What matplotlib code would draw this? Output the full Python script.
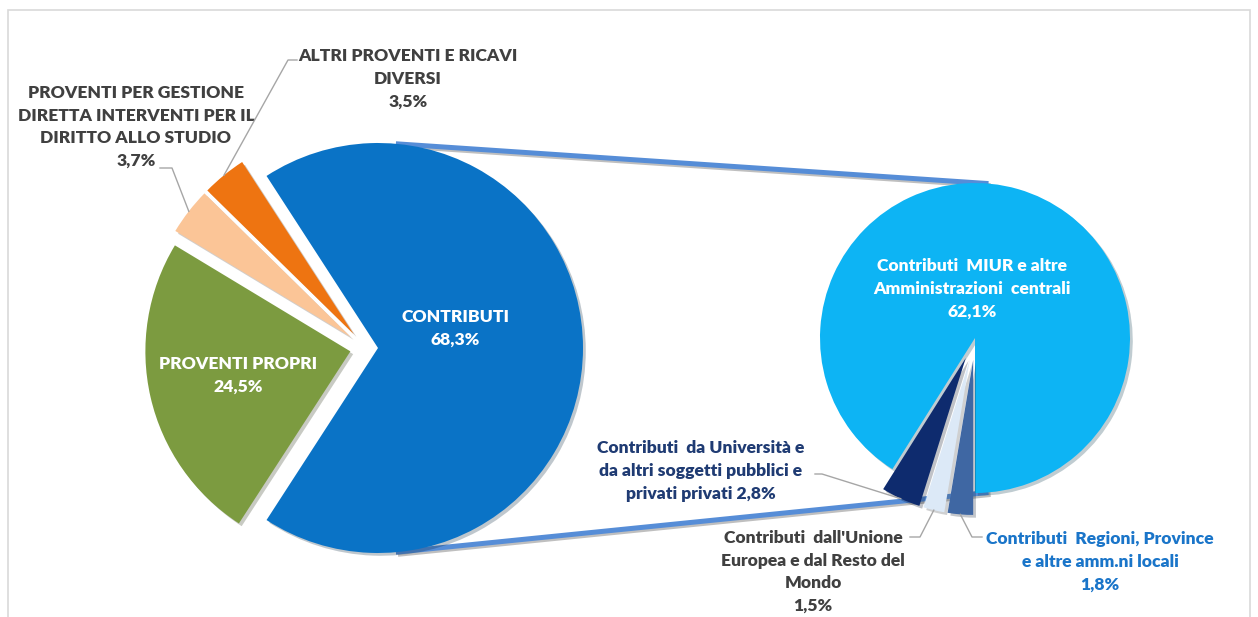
import numpy as np
import matplotlib.pyplot as plt
import matplotlib.patheffects as pe
from matplotlib.patches import Rectangle

# main pie
main_labels = ["CONTRIBUTI",
               "ALTRI PROVENTI E RICAVI\nDIVERSI",
               "PROVENTI PER GESTIONE\nDIRETTA INTERVENTI PER IL\nDIRITTO ALLO STUDIO",
               "PROVENTI PROPRI"]
main_values = [68.3, 3.5, 3.7, 24.5]
main_colors = ["#0A73C6", "#EE7411", "#FBC597", "#7C9B40"]

# breakdown of CONTRIBUTI
sub_labels = ["Contributi  MIUR e altre\nAmministrazioni  centrali",
              "Contributi  da Università e\nda altri soggetti pubblici e\nprivati privati",
              "Contributi  dall'Unione\nEuropea e dal Resto del\nMondo",
              "Contributi  Regioni, Province\ne altre amm.ni locali"]
sub_values = [62.1, 2.8, 1.5, 1.8]
sub_colors = ["#0DB4F4", "#0E2B6E", "#DCE9F7", "#3F67A3"]

W, H = 1258, 617
plt.rcParams['font.family'] = ['Lato', 'DejaVu Sans']
fig = plt.figure(figsize=(W / 100, H / 100), dpi=100)
ax = fig.add_axes([0, 0, 1, 1])


def py(y):
    return H - y


def pct(v):
    return f"{v:.1f}".replace(".", ",") + "%"


shadow = [pe.SimplePatchShadow(offset=(2, -2), alpha=0.25), pe.Normal()]

start = -main_values[0] / sum(main_values) * 360 / 2
wl, _ = ax.pie(main_values, colors=main_colors, startangle=start,
               center=(365, py(348)), radius=205,
               explode=[13, 18, 18, 15], wedgeprops=dict(linewidth=0))
wr, _ = ax.pie(sub_values, colors=sub_colors, startangle=-90,
               center=(975, py(338)), radius=155,
               explode=[0, 22, 22, 22], wedgeprops=dict(linewidth=0))
for w in wl + wr:
    w.set_path_effects(shadow)
    w.set_zorder(3)


def on_arc(w, ang=None):
    if ang is None:
        ang = (w.theta1 + w.theta2) / 2
    a = np.deg2rad(ang)
    return w.center[0] + w.r * np.cos(a), w.center[1] + w.r * np.sin(a)


# connector lines between the two pies
for ang in (85, -85):
    p0 = on_arc(wl[0], ang)
    p1 = on_arc(wr[0], ang)
    ax.plot([p0[0], p1[0]], [p0[1], p1[1]], color="#568DD7", lw=3.6,
            solid_capstyle="butt", zorder=2,
            path_effects=[pe.SimpleLineShadow(offset=(1.5, -1.5), alpha=0.25), pe.Normal()])

gray = "#404040"
lead = dict(color="#A6A6A6", lw=1, zorder=4)
txt = dict(fontsize=12.6, fontweight="heavy", ha="center", va="center", linespacing=1.52)

# labels inside slices
ax.text(455, py(328), main_labels[0] + "\n" + pct(main_values[0]), color="white", zorder=5, **txt)
ax.text(238, py(375), main_labels[3] + "\n" + pct(main_values[3]), color="white", zorder=5, **txt)
ax.text(972, py(289), sub_labels[0] + "\n" + pct(sub_values[0]), color="white", zorder=5, **txt)

# outside labels with leader lines
ax.text(408, py(79), main_labels[1] + "\n" + pct(main_values[1]), color=gray, **txt)
a = on_arc(wl[1])
ax.plot([a[0], 288, 297], [a[1], py(60), py(60)], **lead)

ax.text(136, py(127), main_labels[2] + "\n" + pct(main_values[2]), color=gray, **txt)
a = on_arc(wl[2])
ax.plot([a[0], 172, 160], [a[1], py(168), py(168)], **lead)

ax.text(701, py(471), sub_labels[1] + " " + pct(sub_values[1]), color="#1F3B73", **txt)
a = on_arc(wr[1])
ax.plot([a[0], 822, 815], [a[1], py(474), py(474)], **lead)

ax.text(813, py(572), sub_labels[2] + "\n" + pct(sub_values[2]), color=gray, **txt)
a = on_arc(wr[2])
ax.plot([a[0], 920, 910], [a[1], py(537), py(537)], **lead)

ax.text(1100, py(562), sub_labels[3] + "\n" + pct(sub_values[3]), color="#1A75C9", **txt)
a = on_arc(wr[3])
ax.plot([a[0], 972, 982], [a[1], py(537), py(537)], **lead)

# chart frame
ax.add_patch(Rectangle((8, -10), 1242, py(10) + 10, fill=False,
                       edgecolor="#D9D9D9", lw=1.2, zorder=0))

ax.set_xlim(0, W)
ax.set_ylim(0, H)
ax.set_aspect("auto")
ax.axis("off")
fig.savefig("out.png", dpi=100)
